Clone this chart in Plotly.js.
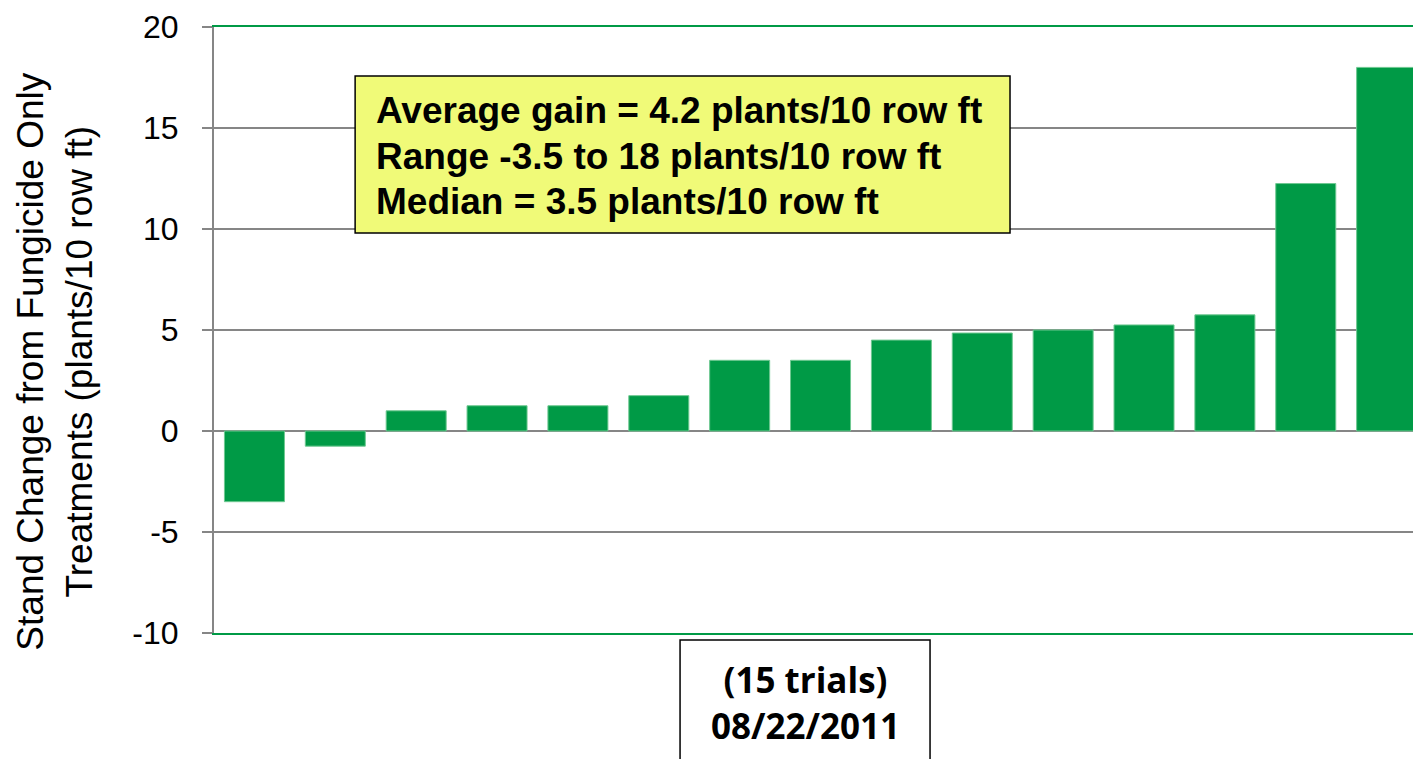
<!DOCTYPE html>
<html>
<head>
<meta charset="utf-8">
<script src="https://cdn.plot.ly/plotly-3.0.1.min.js"></script>
<style>html,body{margin:0;padding:0;background:#fff;}#chart{width:1413px;height:759px;}</style>
</head>
<body>
<div id="chart"></div>
<script>
// Trials (sorted by stand change)
const trials = [1, 2, 3, 4, 5, 6, 7, 8, 9, 10, 11, 12, 13, 14, 15];
const standChange = [-3.5, -0.75, 1.0, 1.25, 1.25, 1.75, 3.5, 3.5, 4.5, 4.85, 5.0, 5.25, 5.75, 12.25, 18.0];
const yTicks = [-10, -5, 0, 5, 10, 15, 20];
const yTitleLines = ["Stand Change from Fungicide Only", "Treatments (plants/10 row ft)"];
const summaryLines = ["Average gain = 4.2 plants/10 row ft", "Range -3.5 to 18 plants/10 row ft", "Median = 3.5 plants/10 row ft"];
const footerLines = ["(15 trials)", "08/22/2011"];

const GREEN = "rgb(0,154,70)";
const GRAY = "#868686";

const trace = {
  type: "bar",
  x: trials,
  y: standChange,
  marker: {color: GREEN, line: {color: "rgb(110,200,145)", width: 1}},
  hoverinfo: "x+y"
};

// vertical paper positions of the summary lines (plot area: 27px top, 606px tall)
const summaryY = [0.8615, 0.7855, 0.7120];

const annotations = summaryLines.map((s, i) => ({
  xref: "paper", yref: "paper", x: 0.1335, y: summaryY[i], xanchor: "left", yanchor: "middle", align: "left",
  showarrow: false, text: "<b>" + s + "</b>",
  font: {family: "Liberation Sans, Arial, sans-serif", size: 37, color: "#000"}
}));
annotations.push(
  {xref: "paper", yref: "paper", x: 0.493, y: -0.1147, xanchor: "center", yanchor: "middle", align: "center",
   showarrow: false, text: footerLines.map(s => "<b>" + s + "</b>").join("<br>"),
   font: {family: "Open Sans, sans-serif", size: 35, color: "#000"}},
  {xref: "paper", yref: "paper", x: -0.1330, y: 0.447, xanchor: "center", yanchor: "middle", align: "center",
   showarrow: false, textangle: -90, text: yTitleLines.join("<br>"),
   font: {family: "Liberation Sans, Arial, sans-serif", size: 37, color: "#000"}}
);

const layout = {
  width: 1413,
  height: 759,
  margin: {l: 214, r: 0, t: 27, b: 126, pad: 0},
  paper_bgcolor: "#ffffff",
  plot_bgcolor: "#ffffff",
  showlegend: false,
  bargap: 0.258,
  font: {family: "Liberation Sans, Arial, sans-serif", color: "#000"},
  xaxis: {
    range: [0.5, 15.326],
    showticklabels: false,
    ticks: "",
    showgrid: false,
    zeroline: false,
    showline: true,
    mirror: true,
    linecolor: GREEN,
    linewidth: 2,
    fixedrange: true
  },
  yaxis: {
    range: [-10, 20],
    tickvals: yTicks,
    ticktext: yTicks.map(String),
    tickfont: {family: "Liberation Sans, Arial, sans-serif", size: 32, color: "#000"},
    ticks: "outside",
    ticklen: 10,
    tickwidth: 2,
    tickcolor: GRAY,
    ticklabelstandoff: 17,
    showline: true,
    linecolor: GRAY,
    linewidth: 2,
    showgrid: true,
    gridcolor: GRAY,
    gridwidth: 2,
    zeroline: true,
    zerolinecolor: GRAY,
    zerolinewidth: 2,
    fixedrange: true
  },
  shapes: [
    {type: "rect", xref: "paper", yref: "paper", x0: 0.1177, x1: 0.6639, y0: 0.6601, y1: 0.9191,
     fillcolor: "rgb(240,250,120)", line: {color: "#000", width: 1.5}, layer: "above"},
    {type: "rect", xref: "paper", yref: "paper", x0: 0.3887, x1: 0.5972, y0: -0.25, y1: -0.0116,
     fillcolor: "#ffffff", line: {color: "#000", width: 1.5}, layer: "above"}
  ],
  annotations: annotations
};

Plotly.newPlot("chart", [trace], layout, {displayModeBar: false, staticPlot: true});
</script>
</body>
</html>
